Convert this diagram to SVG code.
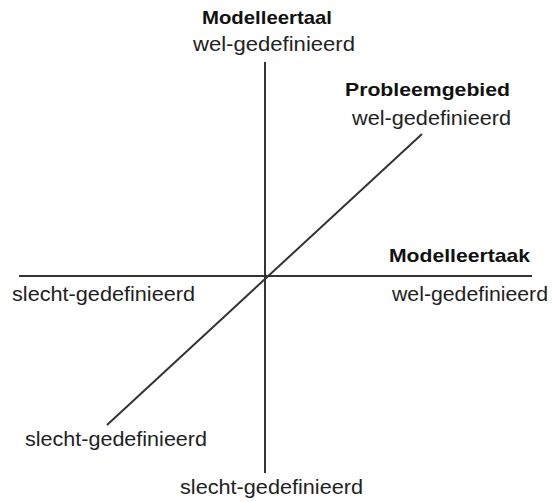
<svg xmlns="http://www.w3.org/2000/svg" width="553" height="502" viewBox="0 0 553 502">
  <style>
    .axis { stroke: #333; stroke-width: 2; fill: none; }
    .lbl { font-family: "Liberation Sans", Arial, sans-serif; font-size: 20px; fill: #222; }
    .ttl { font-family: "Liberation Sans", Arial, sans-serif; font-size: 19px; font-weight: bold; fill: #111; }
  </style>
  <rect width="553" height="502" fill="#fff"/>

  <!-- three axes crossing at the origin -->
  <g id="connectors">
    <line class="axis" x1="265" y1="62" x2="265" y2="473"/>
    <line class="axis" x1="19" y1="276" x2="532" y2="276"/>
    <line class="axis" x1="107" y1="425" x2="422" y2="134"/>
  </g>

  <!-- vertical axis: modelling language -->
  <g id="modelleertaal">
    <text class="ttl" x="202" y="24" textLength="130" lengthAdjust="spacingAndGlyphs">Modelleertaal</text>
    <text class="lbl" x="193" y="51" textLength="162" lengthAdjust="spacingAndGlyphs">wel-gedefinieerd</text>
    <text class="lbl" x="180" y="494" textLength="183" lengthAdjust="spacingAndGlyphs">slecht-gedefinieerd</text>
  </g>

  <!-- diagonal axis: problem domain -->
  <g id="probleemgebied">
    <text class="ttl" x="345" y="96" textLength="165" lengthAdjust="spacingAndGlyphs">Probleemgebied</text>
    <text class="lbl" x="352" y="125" textLength="159" lengthAdjust="spacingAndGlyphs">wel-gedefinieerd</text>
    <text class="lbl" x="25" y="446" textLength="182" lengthAdjust="spacingAndGlyphs">slecht-gedefinieerd</text>
  </g>

  <!-- horizontal axis: modelling task -->
  <g id="modelleertaak">
    <text class="ttl" x="389" y="262" textLength="141" lengthAdjust="spacingAndGlyphs">Modelleertaak</text>
    <text class="lbl" x="392" y="301" textLength="156" lengthAdjust="spacingAndGlyphs">wel-gedefinieerd</text>
    <text class="lbl" x="12" y="301" textLength="183" lengthAdjust="spacingAndGlyphs">slecht-gedefinieerd</text>
  </g>
</svg>
